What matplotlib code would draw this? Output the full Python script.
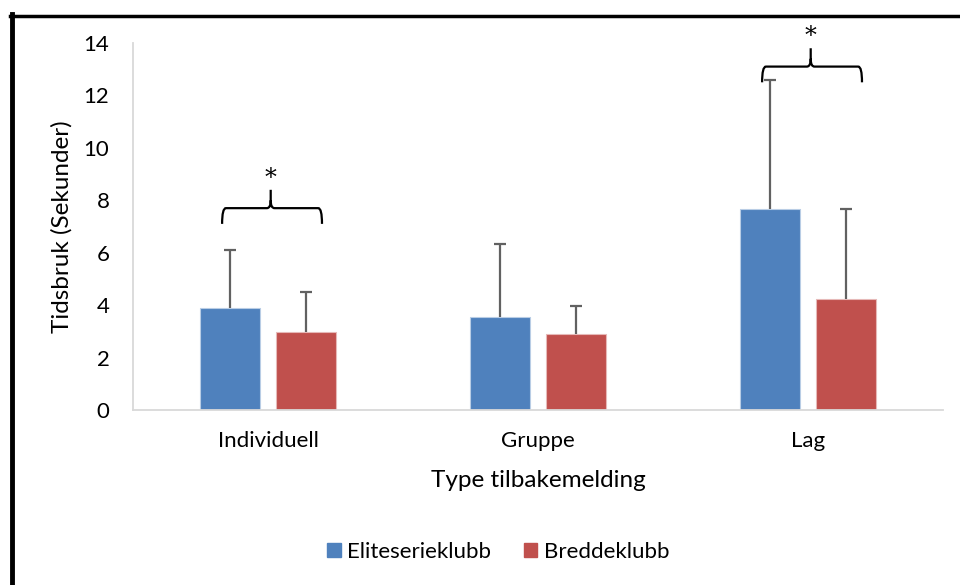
import matplotlib.pyplot as plt
import numpy as np
from matplotlib.path import Path
from matplotlib.patches import PathPatch, Patch
from matplotlib.lines import Line2D

categories = ['Individuell', 'Gruppe', 'Lag']
series = ['Eliteserieklubb', 'Breddeklubb']
elite_mean = [3.9, 3.55, 7.67]
elite_sd = [2.2, 2.79, 4.93]
bredde_mean = [2.98, 2.9, 4.24]
bredde_sd = [1.52, 1.07, 3.43]
# brace feet level for significant pairs (None = no brace)
brace_level = [7.1, None, 12.5]

colors = ['#4F81BD', '#C0504D']
edges = ['#b9cde5', '#e6b9b8']

plt.rcParams['font.family'] = ['Lato', 'DejaVu Sans']

fig = plt.figure(figsize=(9.6, 5.85), dpi=100)
ax = fig.add_axes([133 / 960, 175 / 585, 810 / 960, 367 / 585])

x = np.arange(len(categories))
width = 0.222
offsets = [-0.142, 0.141]
means = [elite_mean, bredde_mean]
sds = [elite_sd, bredde_sd]

for i in range(2):
    xs = x + offsets[i]
    ax.bar(xs, means[i], width, color=colors[i], edgecolor=edges[i],
           linewidth=0.8, label=series[i], zorder=2)
    tops = np.array(means[i]) + np.array(sds[i])
    ax.vlines(xs, means[i], tops, color='#616161', linewidth=1.6, zorder=3)
    ax.hlines(tops, xs - 0.022, xs + 0.022, color='#616161', linewidth=1.6, zorder=3)


def brace(ax, x0, x1, xm, y_end, y_h, y_tip, r=0.014):
    verts = [(x0, y_end), (x0, y_h), (x0 + r, y_h),
             (xm - r, y_h), (xm, y_h), (xm, y_h + 0.3),
             (xm, y_tip),
             (xm, y_h + 0.3), (xm, y_h), (xm + r, y_h),
             (x1 - r, y_h), (x1, y_h), (x1, y_end)]
    codes = [Path.MOVETO, Path.CURVE3, Path.CURVE3,
             Path.LINETO, Path.CURVE3, Path.CURVE3,
             Path.LINETO,
             Path.MOVETO, Path.CURVE3, Path.CURVE3,
             Path.LINETO, Path.CURVE3, Path.CURVE3]
    ax.add_patch(PathPatch(Path(verts, codes), fill=False, lw=1.6,
                           edgecolor='black', clip_on=False, zorder=4))


for i, base in enumerate(brace_level):
    if base is None:
        continue
    brace(ax, i - 0.17, i + 0.2, i + 0.01, base, base + 0.6, base + 1.3)
    ax.text(i + 0.01, base + 1.75, '*', family='DejaVu Serif', fontsize=17,
            ha='center', va='center', clip_on=False)

ax.set_xlim(-0.5, 2.5)
ax.set_ylim(0, 14)
ax.set_yticks(range(0, 15, 2))
ax.set_xticks(x)
ax.set_xticklabels(categories)
ax.tick_params(length=0, labelsize=16)
ax.tick_params(axis='y', pad=17)
ax.tick_params(axis='x', pad=15)
for s in ['top', 'right']:
    ax.spines[s].set_visible(False)
for s in ['left', 'bottom']:
    ax.spines[s].set_color('#d9d9d9')
    ax.spines[s].set_linewidth(1.3)

ax.set_xlabel('Type tilbakemelding', fontsize=17.5, labelpad=14)
ax.set_ylabel('Tidsbruk (Sekunder)', fontsize=17.5, labelpad=8)

handles = [Patch(color=c) for c in colors]
fig.legend(handles, series, loc='center', bbox_to_anchor=(0.519, 33 / 585),
           ncol=2, frameon=False, fontsize=16, handlelength=0.6,
           handleheight=0.6, columnspacing=1.45, handletextpad=0.3)

# outer frame
fig.add_artist(Line2D([12 / 960, 12 / 960], [0, 1 - 14 / 585], color='black',
                      lw=3.5, transform=fig.transFigure))
fig.add_artist(Line2D([10 / 960, 1], [1 - 15.5 / 585, 1 - 15.5 / 585], color='black',
                      lw=2.5, transform=fig.transFigure))

fig.savefig('out.png', dpi=100, facecolor='white')
